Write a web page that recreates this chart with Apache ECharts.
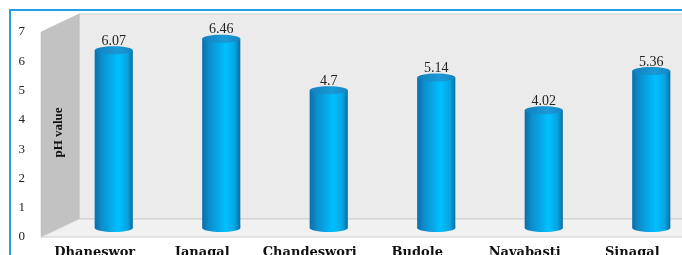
<!DOCTYPE html>
<html lang="en">
<head>
    <meta charset="UTF-8">
    <title>pH value</title>
    <script src="https://cdn.jsdelivr.net/npm/echarts@6/dist/echarts.min.js"></script>
</head>
<body style="margin:0">
<div id="content" style="height: 255px;width: 682px"></div>
<script>
    // data
    var sites = ["Dhaneswor", "Janagal", "Chandeswori", "Budole", "Navabasti", "Sinagal"];
    var phValues = [6.07, 6.46, 4.7, 5.14, 4.02, 5.36];
    var yMin = 0, yMax = 7, yStep = 1;

    // 3d box: front plane, depth offset
    var fx = 41, fy = 32, fh = 205, fw = 645, dx = 38, dy = -18;

    var myChart = echarts.init(document.getElementById('content'));

    var barGrad = new echarts.graphic.LinearGradient(0, 0, 1, 0, [
        {offset: 0, color: '#0b6ea8'},
        {offset: 0.18, color: '#0d8dcc'},
        {offset: 0.62, color: '#00c0ff'},
        {offset: 0.86, color: '#07a4e0'},
        {offset: 1, color: '#0a6da2'}
    ]);
    var topGrad = new echarts.graphic.LinearGradient(0, 0, 1, 0, [
        {offset: 0, color: '#127fbd'},
        {offset: 0.6, color: '#1a9ad6'},
        {offset: 1, color: '#1486c4'}
    ]);

    function renderBar(params, api) {
        var i = api.value(0), v = api.value(1);
        var top = api.coord([i, v]);
        var base = api.coord([i, 0]);
        var w = api.size([1, 0])[0] * 0.355;
        var ry = 4;
        return {
            type: 'group',
            children: [
                {type: 'ellipse', shape: {cx: base[0], cy: base[1], rx: w / 2, ry: ry}, style: {fill: barGrad}},
                {type: 'rect', shape: {x: top[0] - w / 2, y: top[1], width: w, height: base[1] - top[1]}, style: {fill: barGrad}},
                {type: 'ellipse', shape: {cx: top[0], cy: top[1], rx: w / 2, ry: ry}, style: {fill: topGrad}},
                {type: 'text', x: top[0], y: top[1] - ry + 2, style: {
                    text: String(v), fill: '#222', font: '14px "Liberation Serif"',
                    align: 'center', verticalAlign: 'bottom'
                }}
            ]
        };
    }

    var option = {
        backgroundColor: '#fff',
        animation: false,
        graphic: [
            // back wall
            {type: 'rect', z: -10, shape: {x: fx + dx, y: fy + dy, width: 700, height: fh},
                style: {fill: '#ebebeb', stroke: '#c9c9c9', lineWidth: 1}},
            // side wall
            {type: 'polygon', z: -9, shape: {points: [[fx, fy], [fx + dx, fy + dy], [fx + dx, fy + dy + fh], [fx, fy + fh]]},
                style: {fill: '#c2c2c2', stroke: '#b5b5b5', lineWidth: 0.5}},
            // floor
            {type: 'polygon', z: -9, shape: {points: [[fx, fy + fh], [fx + dx, fy + dy + fh], [800, fy + dy + fh], [800, fy + fh]]},
                style: {fill: '#f1f1f1', stroke: '#d0d0d0', lineWidth: 1}},
            {type: 'text', z: 5, x: fx + dx / 2 - 1, y: fy + dy / 2 + fh / 2 + 7, rotation: Math.PI / 2,
                style: {text: 'pH value', font: 'bold 13px "Liberation Serif"', fill: '#111',
                    align: 'center', verticalAlign: 'middle'}},
            // border
            {type: 'rect', z: 20, shape: {x: 10, y: 10, width: 700, height: 300},
                style: {fill: 'none', stroke: '#229de6', lineWidth: 2}}
        ],
        grid: [
            {left: fx, top: fy, width: fw, height: fh, outerBoundsMode: 'none'},
            {left: fx + dx / 2, top: fy + dy / 2, width: fw, height: fh, outerBoundsMode: 'none'}
        ],
        xAxis: [
            {type: 'category', gridIndex: 0, data: sites,
                axisLine: {show: false}, axisTick: {show: false},
                axisLabel: {interval: 0, margin: 9, color: '#111', fontFamily: 'DejaVu Serif', fontWeight: 'bold', fontSize: 13}},
            {type: 'category', gridIndex: 1, data: sites, show: false}
        ],
        yAxis: [
            {type: 'value', gridIndex: 0, min: yMin, max: yMax, interval: yStep,
                axisLine: {show: false}, axisTick: {show: false}, splitLine: {show: false},
                axisLabel: {margin: 16, color: '#222', fontFamily: 'Liberation Serif', fontSize: 13}},
            {type: 'value', gridIndex: 1, min: yMin, max: yMax, interval: yStep, show: false,
                splitLine: {show: false}}
        ],
        series: [{
            type: 'custom',
            xAxisIndex: 1,
            yAxisIndex: 1,
            renderItem: renderBar,
            data: phValues.map(function (v, i) { return [i, v]; })
        }]
    };
    myChart.setOption(option);
</script>
</body>
</html>
